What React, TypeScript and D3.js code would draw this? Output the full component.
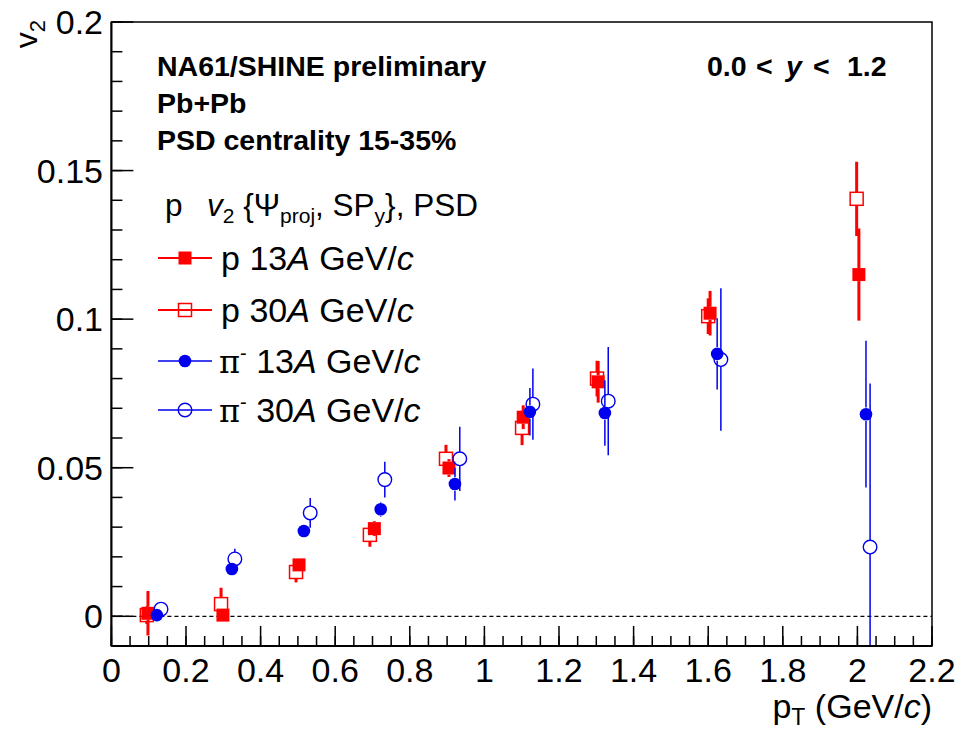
import React from "react";
import * as d3 from "d3";

// ---------- data ----------
const p13Pt = [0.098, 0.299, 0.503, 0.705, 0.905, 1.104, 1.305, 1.605, 2.004];
const p13V = [0.001, 0.0004, 0.0173, 0.0295, 0.0499, 0.067, 0.0789, 0.102, 0.115];
const p13E = [0.0075, 0.002, 0.002, 0.0025, 0.003, 0.004, 0.007, 0.0075, 0.0155];

const p30Pt = [0.095, 0.294, 0.495, 0.693, 0.897, 1.101, 1.302, 1.6, 1.998];
const p30V = [0.0004, 0.0041, 0.0149, 0.0274, 0.053, 0.0634, 0.08, 0.101, 0.1405];
const p30E = [0.003, 0.0055, 0.0035, 0.004, 0.0047, 0.0058, 0.006, 0.006, 0.0125];

const pi13Pt = [0.122, 0.323, 0.516, 0.722, 0.921, 1.122, 1.323, 1.624, 2.023];
const pi13V = [0.0004, 0.0159, 0.0287, 0.036, 0.0445, 0.0688, 0.0684, 0.0883, 0.068];
const pi13E = [0.0015, 0.0015, 0.002, 0.0025, 0.0055, 0.008, 0.011, 0.012, 0.0247];

const pi30Pt = [0.133, 0.331, 0.533, 0.733, 0.934, 1.13, 1.332, 1.634, 2.034];
const pi30V = [0.0024, 0.0193, 0.0348, 0.046, 0.053, 0.0714, 0.0724, 0.0864, 0.0233];
const pi30E = [0.0024, 0.0034, 0.005, 0.006, 0.0108, 0.012, 0.0182, 0.024, 0.055];

const xTicks = [0, 0.2, 0.4, 0.6, 0.8, 1, 1.2, 1.4, 1.6, 1.8, 2, 2.2];
const xTickLabels = ["0", "0.2", "0.4", "0.6", "0.8", "1", "1.2", "1.4", "1.6", "1.8", "2", "2.2"];
const yTicks = [0, 0.05, 0.1, 0.15, 0.2];
const yTickLabels = ["0", "0.05", "0.1", "0.15", "0.2"];

const RED = "#ff0000";
const BLUE = "#0000ee";
const FONT = "'Liberation Sans', Arial, Helvetica, sans-serif";

type Series = {
  pt: number[];
  v: number[];
  e: number[];
  color: string;
  shape: "square" | "circle";
  filled: boolean;
  lw: number;
};

const series: Series[] = [
  { pt: p30Pt, v: p30V, e: p30E, color: RED, shape: "square", filled: false, lw: 3 },
  { pt: p13Pt, v: p13V, e: p13E, color: RED, shape: "square", filled: true, lw: 3 },
  { pt: pi30Pt, v: pi30V, e: pi30E, color: BLUE, shape: "circle", filled: false, lw: 1.5 },
  { pt: pi13Pt, v: pi13V, e: pi13E, color: BLUE, shape: "circle", filled: true, lw: 1.5 },
];

const L = 111.4, R = 932, T = 22, B = 646;

function Marker({ cx, cy, s }: { cx: number; cy: number; s: Series }) {
  if (s.shape === "square") {
    const h = 6.5;
    return (
      <rect
        x={cx - h}
        y={cy - h}
        width={2 * h}
        height={2 * h}
        fill={s.filled ? s.color : "none"}
        stroke={s.color}
        strokeWidth={s.filled ? 0 : 1.5}
      />
    );
  }
  return (
    <circle
      cx={cx}
      cy={cy}
      r={s.filled ? 6.3 : 6.8}
      fill={s.filled ? s.color : "none"}
      stroke={s.color}
      strokeWidth={s.filled ? 0 : 1.4}
    />
  );
}

export default function App() {
  const x = d3.scaleLinear().domain([0, 2.2]).range([L, R]);
  const y = d3.scaleLinear().domain([-0.01, 0.2]).range([B, T]);

  const xMinor = d3.range(0, 2.2001, 0.05);
  const yMinor = d3.range(-0.01, 0.2001, 0.01);

  const legendRows = [
    { s: series[1], y: 258, label: "p", part: "13" },
    { s: series[0], y: 310, label: "p", part: "30" },
    { s: series[3], y: 361, label: "pi", part: "13" },
    { s: series[2], y: 410, label: "pi", part: "30" },
  ];

  return (
    <svg
      width={978}
      height={732}
      style={{ position: "absolute", left: 0, top: 0, background: "#fff" }}
      fontFamily={FONT}
    >
      <rect x={0} y={0} width={978} height={732} fill="#fff" />
      <defs>
        <clipPath id="plot">
          <rect x={L} y={T} width={R - L} height={B - T} />
        </clipPath>
      </defs>

      {/* zero line */}
      <line x1={L} x2={R} y1={y(0)} y2={y(0)} stroke="#000" strokeWidth={1.2} strokeDasharray="4,3" />

      {/* data */}
      <g clipPath="url(#plot)">
        {series.map((s, si) =>
          s.pt.map((p, i) => {
            const cx = x(p);
            const cy = y(s.v[i]);
            const top = y(s.v[i] + s.e[i]);
            const bot = y(s.v[i] - s.e[i]);
            const gap = s.shape === "square" ? 6.5 : 6.8;
            return (
              <g key={`${si}-${i}`}>
                {top < cy - gap && (
                  <line x1={cx} x2={cx} y1={top} y2={cy - gap} stroke={s.color} strokeWidth={s.lw} />
                )}
                {bot > cy + gap && (
                  <line x1={cx} x2={cx} y1={cy + gap} y2={bot} stroke={s.color} strokeWidth={s.lw} />
                )}
                <Marker cx={cx} cy={cy} s={s} />
              </g>
            );
          })
        )}
      </g>

      {/* frame */}
      <rect x={L} y={T} width={R - L} height={B - T} fill="none" stroke="#000" strokeWidth={1.5} />
      <line x1={L} x2={L} y1={T} y2={B} stroke="#000" strokeWidth={2} />
      <line x1={L} x2={R} y1={B} y2={B} stroke="#000" strokeWidth={2.2} />

      {/* x ticks */}
      {xMinor.map((t, i) => (
        <line key={`xm${i}`} x1={x(t)} x2={x(t)} y1={B} y2={B - 10} stroke="#000" strokeWidth={1.5} />
      ))}
      {xTicks.map((t, i) => (
        <g key={`xt${i}`}>
          <line x1={x(t)} x2={x(t)} y1={B} y2={B - 20} stroke="#000" strokeWidth={1.5} />
          <text x={x(t)} y={682} fontSize={34} textAnchor="middle">
            {xTickLabels[i]}
          </text>
        </g>
      ))}

      {/* y ticks */}
      {yMinor.map((t, i) => (
        <line key={`ym${i}`} x1={L} x2={L + 11} y1={y(t)} y2={y(t)} stroke="#000" strokeWidth={1.5} />
      ))}
      {yTicks.map((t, i) => (
        <g key={`yt${i}`}>
          <line x1={L} x2={L + 22} y1={y(t)} y2={y(t)} stroke="#000" strokeWidth={1.5} />
          <text x={103} y={y(t) + 12} fontSize={34} textAnchor="end">
            {yTickLabels[i]}
          </text>
        </g>
      ))}

      {/* axis titles */}
      <text x={932} y={718} fontSize={34} textAnchor="end">
        p<tspan dy={7} fontSize={23}>T</tspan>
        <tspan dy={-7}> (GeV/</tspan>
        <tspan fontStyle="italic">c</tspan>
        <tspan>)</tspan>
      </text>
      <text transform="translate(37,20) rotate(-90)" fontSize={32} textAnchor="end">
        v<tspan dy={8} fontSize={22}>2</tspan>
      </text>

      {/* header texts */}
      <g fontWeight="bold" fontSize={28.5}>
        <text x={157} y={76}>NA61/SHINE preliminary</text>
        <text x={157} y={113}>Pb+Pb</text>
        <text x={157} y={150}>PSD centrality 15-35%</text>
        <text y={76}>
          <tspan x={707}>0.0</tspan>
          <tspan x={756}>&lt;</tspan>
          <tspan x={786} fontStyle="italic">y</tspan>
          <tspan x={813}>&lt;</tspan>
          <tspan x={847}>1.2</tspan>
        </text>
      </g>

      {/* legend header */}
      <text x={165} y={216} fontSize={31.5}>
        p
        <tspan x={207} fontStyle="italic">v</tspan>
        <tspan dy={7} fontSize={21}>2</tspan>
        <tspan dy={-7}> {"{Ψ"}</tspan>
        <tspan dy={7} fontSize={21}>proj</tspan>
        <tspan dy={-7}>, SP</tspan>
        <tspan dy={7} fontSize={21}>y</tspan>
        <tspan dy={-7}>{"}, PSD"}</tspan>
      </text>

      {/* legend rows */}
      {legendRows.map((r, i) => (
        <g key={`lg${i}`}>
          <line x1={158} x2={212} y1={r.y} y2={r.y} stroke={r.s.color} strokeWidth={r.s.color === RED ? 2 : 1.5} />
          <Marker cx={185} cy={r.y} s={r.s} />
          {r.label === "p" ? (
            <text x={221} y={r.y + 12} fontSize={34}>
              p<tspan> {r.part}</tspan>
              <tspan fontStyle="italic">A</tspan>
              <tspan> GeV/</tspan>
              <tspan fontStyle="italic">c</tspan>
            </text>
          ) : (
            <text x={219} y={r.y + 12} fontSize={34}>
              <tspan fontFamily="'DejaVu Serif', 'Liberation Serif', serif" fontSize={32}>π</tspan>
              <tspan dy={-13} fontSize={20}>-</tspan>
              <tspan dy={13}> {r.part}</tspan>
              <tspan fontStyle="italic">A</tspan>
              <tspan> GeV/</tspan>
              <tspan fontStyle="italic">c</tspan>
            </text>
          )}
        </g>
      ))}
    </svg>
  );
}
